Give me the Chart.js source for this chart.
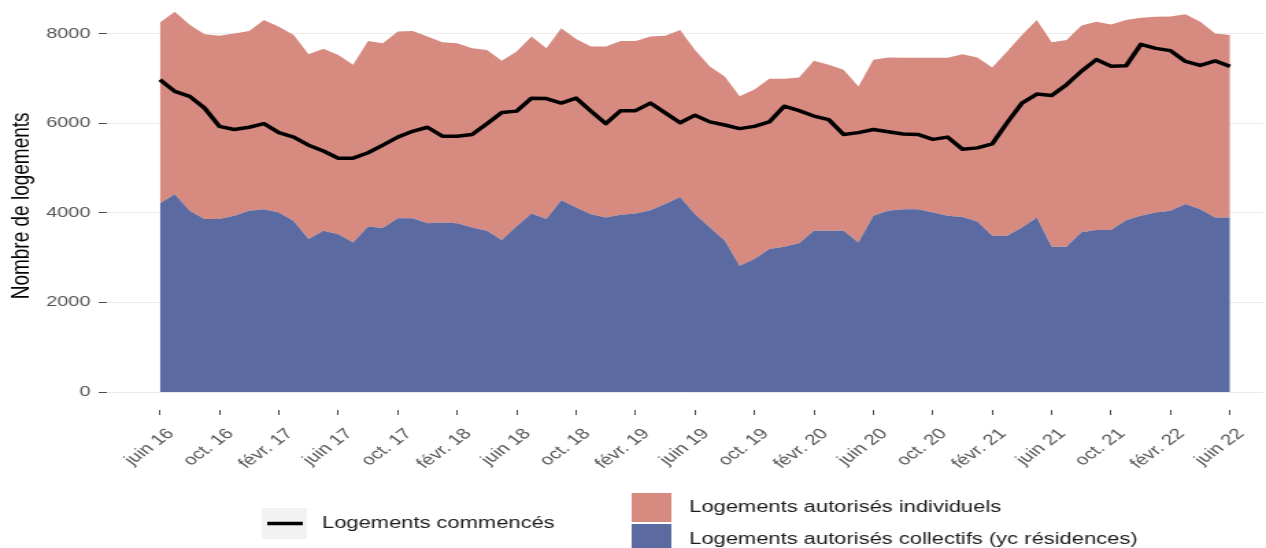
<!DOCTYPE html>
<html>
<head>
<meta charset="utf-8">
<script src="https://cdn.jsdelivr.net/npm/chart.js@4/dist/chart.umd.min.js"></script>
<style>
html,body{margin:0;padding:0;background:#fff;overflow:hidden;width:1266px;height:548px;}
#wrap{position:absolute;left:0;top:0;width:924px;height:548px;transform:scaleX(1.37013);transform-origin:0 0;}
</style>
</head>
<body>
<div id="wrap"><canvas id="c"></canvas></div>
<script>
// Months (categories), juin 2016 -> juin 2022
const months = [
  'juin 16','juil. 16','août 16','sept. 16','oct. 16','nov. 16','déc. 16',
  'janv. 17','févr. 17','mars 17','avr. 17','mai 17','juin 17','juil. 17','août 17','sept. 17','oct. 17','nov. 17','déc. 17',
  'janv. 18','févr. 18','mars 18','avr. 18','mai 18','juin 18','juil. 18','août 18','sept. 18','oct. 18','nov. 18','déc. 18',
  'janv. 19','févr. 19','mars 19','avr. 19','mai 19','juin 19','juil. 19','août 19','sept. 19','oct. 19','nov. 19','déc. 19',
  'janv. 20','févr. 20','mars 20','avr. 20','mai 20','juin 20','juil. 20','août 20','sept. 20','oct. 20','nov. 20','déc. 20',
  'janv. 21','févr. 21','mars 21','avr. 21','mai 21','juin 21','juil. 21','août 21','sept. 21','oct. 21','nov. 21','déc. 21',
  'janv. 22','févr. 22','mars 22','avr. 22','mai 22','juin 22'
];

// Logements autorisés collectifs (yc résidences)
const collectifs = [
  4215,4415,4045,3860,3860,3935,4045,4080,4005,3820,3415,3600,3525,3340,3695,3660,3880,3880,3765,3785,3770,3675,3600,3395,
  3700,3985,3860,4280,4120,3970,3895,3955,3985,4060,4195,4355,3970,3675,3380,2820,2970,3195,3245,3320,3600,3600,3600,3340,
  3935,4045,4080,4080,4005,3935,3910,3805,3490,3490,3675,3895,3245,3245,3565,3615,3615,3835,3935,4005,4045,4195,4080,3895,3895
];

// Logements autorisés individuels
const individuels = [
  4035,4075,4150,4125,4095,4070,4015,4225,4150,4150,4125,4060,4000,3965,4140,4125,4165,4180,4170,4020,4015,4000,4035,4000,
  3900,3950,3815,3840,3760,3740,3815,3880,3850,3875,3755,3725,3665,3590,3665,3780,3780,3800,3750,3700,3795,3705,3595,3480,
  3480,3420,3380,3380,3455,3525,3630,3660,3755,4110,4295,4410,4560,4615,4615,4650,4590,4470,4420,4370,4335,4235,4185,4110,4075
];

// Logements commencés
const commences = [
  6970,6710,6600,6340,5930,5860,5910,5990,5790,5690,5510,5380,5220,5220,5340,5510,5690,5820,5910,5710,5710,5750,5990,6240,
  6270,6560,6550,6450,6560,6270,5990,6280,6280,6450,6230,6010,6180,6030,5960,5880,5930,6030,6380,6280,6160,6080,5750,5790,
  5860,5810,5760,5750,5640,5690,5420,5450,5540,6010,6450,6650,6620,6860,7160,7420,7270,7280,7760,7670,7620,7380,7290,7390,7270
];

// Axis ticks
const xTickIndex = [0,4,8,12,16,20,24,28,32,36,40,44,48,52,56,60,64,68,72];
const xTickLabels = ['juin 16','oct. 16','févr. 17','juin 17','oct. 17','févr. 18','juin 18','oct. 18','févr. 19','juin 19',
  'oct. 19','févr. 20','juin 20','oct. 20','févr. 21','juin 21','oct. 21','févr. 22','juin 22'];
const yTicks = [0,2000,4000,6000,8000];

const FONT = '"Liberation Sans", Arial, Helvetica, sans-serif';
Chart.defaults.font.family = FONT;

const pts = arr => arr.map((v, i) => ({x: i, y: v}));

const COL_BLUE = '#5b6aa1';
const COL_RED = '#d68a80';

const legendPlugin = {
  id: 'ggLegend',
  afterDraw(chart) {
    const ctx = chart.ctx;
    const ds = chart.data.datasets;
    ctx.save();
    // legend 1 : line
    ctx.fillStyle = '#f2f2f2';
    ctx.fillRect(191, 508, 33, 31);
    ctx.strokeStyle = ds[0].borderColor;
    ctx.lineWidth = 3.5;
    ctx.beginPath(); ctx.moveTo(195, 523.5); ctx.lineTo(221, 523.5); ctx.stroke();
    ctx.font = '16px ' + FONT;
    ctx.fillStyle = '#1a1a1a';
    ctx.textAlign = 'left';
    ctx.textBaseline = 'middle';
    ctx.fillText(ds[0].label, 235, 524);
    // legend 2 : areas
    ctx.fillStyle = ds[2].backgroundColor;
    ctx.fillRect(461, 493, 29, 29);
    ctx.fillStyle = ds[1].backgroundColor;
    ctx.fillRect(461, 524, 29, 29);
    ctx.fillStyle = '#1a1a1a';
    ctx.fillText(ds[2].label, 503, 508);
    ctx.fillText(ds[1].label, 503, 540);
    ctx.restore();
  }
};

new Chart(document.getElementById('c'), {
  type: 'line',
  data: {
    datasets: [
      {
        label: 'Logements commencés',
        data: pts(commences),
        borderColor: '#000000',
        borderWidth: 3.5,
        pointRadius: 0,
        fill: false,
        tension: 0,
        stack: 'line',
        borderJoinStyle: 'round'
      },
      {
        label: 'Logements autorisés collectifs (yc résidences)',
        data: pts(collectifs),
        backgroundColor: COL_BLUE,
        borderColor: COL_BLUE,
        borderWidth: 0,
        pointRadius: 0,
        fill: 'origin',
        tension: 0,
        stack: 'auth'
      },
      {
        label: 'Logements autorisés individuels',
        data: pts(individuels),
        backgroundColor: COL_RED,
        borderColor: COL_RED,
        borderWidth: 0,
        pointRadius: 0,
        fill: '-1',
        tension: 0,
        stack: 'auth'
      }
    ]
  },
  options: {
    responsive: true,
    maintainAspectRatio: false,
    animation: false,
    events: [],
    layout: { padding: { left: 0, right: 0, top: 0, bottom: 78 } },
    plugins: { legend: { display: false }, tooltip: { enabled: false } },
    scales: {
      x: {
        type: 'linear',
        min: -3.57,
        max: 74.26,
        border: { display: false },
        grid: { display: true, drawOnChartArea: false, drawTicks: true, tickLength: 5, tickColor: '#4d4d4d', tickWidth: 1 },
        ticks: {
          autoSkip: false,
          maxRotation: 45,
          minRotation: 45,
          padding: 10,
          labelOffset: 8,
          color: '#555555',
          font: { size: 15 },
          callback: (v) => { const k = xTickIndex.indexOf(v); return k >= 0 ? xTickLabels[k] : null; }
        },
        afterBuildTicks: (s) => { s.ticks = xTickIndex.map(v => ({ value: v })); },
        afterFit: (s) => { s.height = 60; s.paddingLeft = 0; s.paddingRight = 0; }
      },
      y: {
        stacked: true,
        min: -400,
        max: 8711,
        border: { display: false },
        grid: { color: '#ebebeb', lineWidth: 1, drawTicks: true, tickLength: 6, tickColor: '#4d4d4d' },
        ticks: { padding: 6, color: '#555555', font: { size: 14.5 }, callback: v => String(v) },
        afterBuildTicks: (s) => { s.ticks = yTicks.map(v => ({ value: v })); },
        afterFit: (s) => { s.width = 78; s.paddingTop = 0; s.paddingBottom = 0; },
        title: { display: true, text: 'Nombre de logements', color: '#000000', font: { size: 19 }, padding: { top: 4, bottom: 0 } }
      }
    }
  },
  plugins: [legendPlugin]
});
</script>
</body>
</html>
